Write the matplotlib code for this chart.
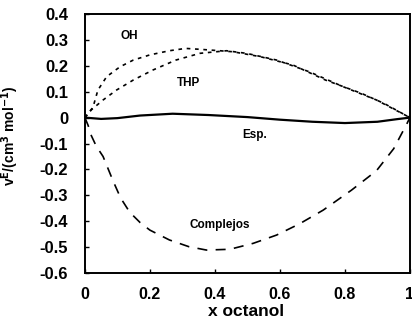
import matplotlib.pyplot as plt

plt.rcParams["font.family"] = ["Liberation Sans", "DejaVu Sans"]
plt.rcParams["font.weight"] = "bold"
plt.rcParams["mathtext.default"] = "bf"

# Excess molar volume curves vs. octanol mole fraction
x_oh = [0, 0.025, 0.04, 0.067, 0.108, 0.149, 0.2, 0.26, 0.31, 0.36, 0.415, 0.456,
        0.54, 0.64, 0.74, 0.85, 0.92, 1.0]
v_oh = [0, 0.04, 0.106, 0.158, 0.196, 0.222, 0.242, 0.258, 0.267, 0.263, 0.258, 0.254,
        0.235, 0.203, 0.145, 0.094, 0.055, 0]

x_thp = [0, 0.02, 0.056, 0.097, 0.149, 0.21, 0.28, 0.354, 0.436, 0.497, 0.59, 0.69,
         0.795, 0.897, 1.0]
v_thp = [0, 0.03, 0.068, 0.106, 0.145, 0.184, 0.222, 0.248, 0.258, 0.248, 0.222, 0.177,
         0.119, 0.068, 0]

x_esp = [0, 0.05, 0.1, 0.17, 0.27, 0.38, 0.5, 0.6, 0.7, 0.8, 0.9, 0.96, 1.0]
v_esp = [0, -0.005, -0.002, 0.008, 0.015, 0.01, 0.002, -0.008, -0.016, -0.021, -0.016, -0.006, 0]

x_comp = [0, 0.01, 0.02, 0.035, 0.056, 0.087, 0.11, 0.138, 0.17, 0.2, 0.26, 0.32, 0.374,
          0.446, 0.518, 0.59, 0.66, 0.733, 0.82, 0.897, 0.95, 0.99, 1.0]
v_comp = [0, -0.03, -0.07, -0.11, -0.15, -0.245, -0.31, -0.365, -0.405, -0.434, -0.472,
          -0.498, -0.511, -0.508, -0.485, -0.453, -0.41, -0.357, -0.28, -0.205, -0.12,
          -0.025, 0]

fig = plt.figure(figsize=(4.12, 3.24), dpi=100)
ax = fig.add_axes([0.206, 0.157, 0.789, 0.8])

ax.plot(x_oh, v_oh, color="k", lw=1.2, dashes=(2.2, 2.8))
ax.plot(x_thp, v_thp, color="k", lw=1.2, dashes=(2.2, 2.8))
ax.plot(x_esp, v_esp, color="k", lw=1.6)
ax.plot(x_comp, v_comp, color="k", lw=1.2, dashes=(6, 5))

lab = dict(fontsize=8.5, ha="center", va="center", weight="bold")
ax.text(0.138, 0.315, "OH", **lab)
ax.text(0.318, 0.132, "THP", **lab)
ax.text(0.523, -0.067, "Esp.", **lab)
ax.text(0.415, -0.415, "Complejos", **lab)

ax.set_xlim(0, 1)
ax.set_ylim(-0.6, 0.4)
ax.set_xticks([0, 0.2, 0.4, 0.6, 0.8, 1])
ax.set_xticklabels(["0", "0.2", "0.4", "0.6", "0.8", "1"])
ax.set_yticks([0.4, 0.3, 0.2, 0.1, 0, -0.1, -0.2, -0.3, -0.4, -0.5, -0.6])
ax.set_yticklabels(["0.4", "0.3", "0.2", "0.1", "0", "-0.1", "-0.2", "-0.3", "-0.4",
                    "-0.5", "-0.6"])
ax.tick_params(direction="in", length=3, width=1, labelsize=12)
ax.tick_params(axis="y", pad=12)
ax.tick_params(axis="x", pad=10, labelsize=11.5)
for s in ax.spines.values():
    s.set_linewidth(1.4)

ax.set_xlabel("x octanol", fontsize=12.5, weight="bold")
ax.xaxis.set_label_coords(0.497, -0.118)
ax.set_ylabel(r"v$^{E}$/(cm$^{3}$ mol$^{-1}$)", fontsize=10, weight="bold")
ax.yaxis.set_label_coords(-0.195, 0.53)

fig.savefig("out.png", dpi=100)
